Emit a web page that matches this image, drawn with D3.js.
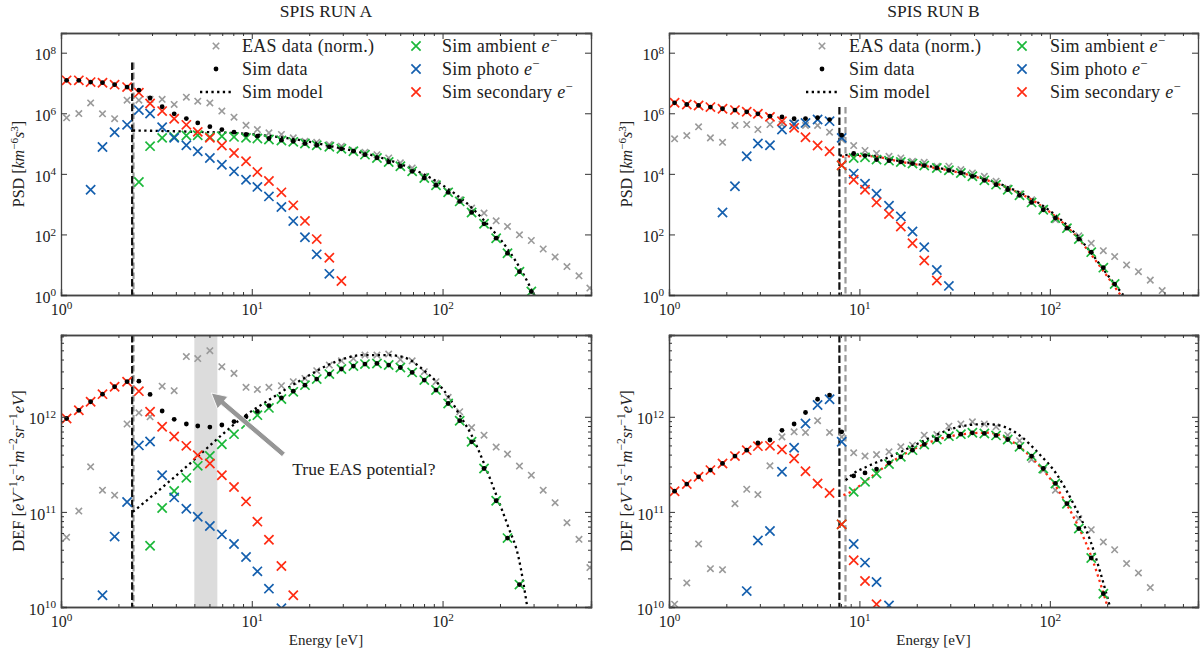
<!DOCTYPE html>
<html>
<head>
<meta charset="utf-8">
<script src="https://cdn.jsdelivr.net/npm/d3@7/dist/d3.min.js"></script>
<style>
  body { margin: 0; background: #fff; }
  text { font-family: "Liberation Serif", "DejaVu Serif", serif; fill: #222; }
</style>
</head>
<body>
<script>
// ---------------- data ----------------
// energy bins shared by every series [eV]
const energy = [1.07, 1.24, 1.43, 1.65, 1.91, 2.22, 2.56, 2.93, 3.39, 3.92,
  4.54, 5.21, 6.03, 6.97, 8.07, 9.33, 10.7, 12.3, 14.3, 16.5,
  19.0, 21.9, 25.5, 29.5, 34.1, 39.2, 45.3, 52.2, 60.1, 69.3,
  80.2, 92.4, 107, 123, 142, 165, 191, 219, 253, 292,
  337, 389, 449, 519, 592];

const pad = (n, arr) => Array(n).fill(null).concat(arr);

// RUN A, PSD
const psdEasA = [7.1e5, 9.8e5, 2.2e6, 9.6e5, 6.6e5, 2.7e6, 2.7e6, 2.9e6, 2.9e6, 1.95e6,
  3.4e6, 2.5e6, 2.2e6, 1.18e6, 7.4e5, 4.0e5, 2.9e5, 2.25e5, 2.0e5, 1.54e5,
  1.19e5, 1.1e5, 9.3e4, 8.2e4, 6.0e4, 5.2e4, 4.3e4, 3.35e4, 2.3e4, 1.56e4,
  8.3e3, 5.0e3, 2.6e3, 1.4e3, 740, 506, 282, 183, 97, 63,
  33, 18, 8.7, 4.3, 1.7];
const psdSimA = [1.22e7, 1.22e7, 1.07e7, 1.02e7, 8.8e6, 7.3e6, 5.8e6, 3.2e6, 1.64e6, 9.6e5,
  6.7e5, 4.8e5, 3.6e5, 2.9e5, 2.37e5, 1.99e5, 1.75e5, 1.47e5, 1.29e5, 1.19e5,
  1.0e5, 8.8e4, 7.8e4, 6.7e4, 5.6e4, 4.3e4, 3.35e4, 2.47e4, 1.78e4, 1.21e4,
  7.3e3, 4.2e3, 2.45e3, 1.23e3, 532, 224, 75, 24, 5.9, 1.3];
const psdAmbA = pad(6, [5.4e3, 8.2e4, 1.54e5, 1.66e5, 1.84e5, 1.89e5, 1.66e5, 1.75e5, 1.66e5, 1.54e5,
  1.47e5, 1.36e5, 1.26e5, 1.14e5, 1.0e5, 8.8e4, 7.8e4, 6.7e4, 5.6e4, 4.3e4,
  3.35e4, 2.47e4, 1.78e4, 1.21e4, 7.3e3, 4.2e3, 2.45e3, 1.23e3, 532, 224,
  75, 24, 5.9, 1.3]);
const psdPhotoA = pad(2, [3.0e3, 7.7e4, 2.37e5, 4.15e5, 1.27e6, 9.8e5, 3.47e5, 1.54e5, 8.8e4, 5.6e4,
  3.35e4, 2.0e4, 1.21e4, 6.4e3, 3.7e3, 1.8e3, 800, 275, 81, 22, 5]);
const psdSecA = [1.22e7, 1.22e7, 1.07e7, 1.02e7, 8.8e6, 7.3e6, 4.8e6, 2.1e6, 1.18e6, 6.6e5,
  4.15e5, 2.43e5, 1.54e5, 8.6e4, 4.9e4, 2.6e4, 1.15e4, 5.8e3, 2.45e3, 910,
  280, 70, 17, 2.9];
const modelPsdEA = [2.38, 3.42, 5.19, 7.87, 11.9, 18.1, 27.5, 41.7, 63.2, 95.9, 146, 179, 221, 261, 302];
const modelPsdA = [2.7e5, 2.6e5, 2.43e5, 2.25e5, 1.84e5, 1.29e5, 7.6e4, 4.3e4, 1.86e4, 5.0e3, 650, 162, 31, 5.9, 1.0];

// RUN A, DEF
const defEasA = [5.4e10, 1.02e11, 2.98e11, 1.69e11, 1.5e11, 8.4e11, 1.1e12, 1.0e12, 2.1e12, 1.88e12,
  4.3e12, 4.1e12, 4.95e12, 3.36e12, 2.86e12, 2.04e12, 1.94e12, 2.04e12, 2.12e12, 2.34e12,
  2.53e12, 3.05e12, 3.5e12, 3.88e12, 4.1e12, 4.46e12, 4.46e12, 4.57e12, 4.0e12, 3.88e12,
  2.98e12, 2.34e12, 1.6e12, 1.13e12, 7.7e11, 6.4e11, 4.8e11, 4.05e11, 3.03e11, 2.43e11,
  1.69e11, 1.25e11, 7.7e10, 5.15e10, 2.6e10];
const defSimA = [9.6e11, 1.17e12, 1.44e12, 1.73e12, 2.07e12, 2.34e12, 2.37e12, 1.72e12, 1.15e12, 9.4e11,
  8.4e11, 8.0e11, 7.8e11, 8.2e11, 8.9e11, 1.0e12, 1.14e12, 1.31e12, 1.58e12, 1.86e12,
  2.15e12, 2.49e12, 2.81e12, 3.18e12, 3.41e12, 3.58e12, 3.64e12, 3.5e12, 3.3e12, 2.93e12,
  2.43e12, 1.91e12, 1.38e12, 9.1e11, 5.46e11, 2.86e11, 1.31e11, 5.3e10, 1.72e10];
const defAmbA = pad(7, [4.4e10, 1.1e11, 1.66e11, 2.28e11, 3.05e11, 3.88e11, 5.15e11, 6.57e11, 8.4e11, 1.04e12,
  1.24e12, 1.54e12, 1.83e12, 2.15e12, 2.49e12, 2.81e12, 3.18e12, 3.41e12, 3.58e12, 3.64e12,
  3.5e12, 3.3e12, 2.93e12, 2.43e12, 1.91e12, 1.38e12, 9.1e11, 5.46e11, 2.86e11, 1.31e11,
  5.3e10, 1.72e10]);
const defPhotoA = pad(3, [1.33e10, 5.5e10, 1.27e11, 5.0e11, 5.5e11, 2.43e11, 1.42e11, 1.08e11, 8.9e10, 7.1e10,
  5.8e10, 4.6e10, 3.36e10, 2.37e10, 1.56e10, 9.7e9]);
const defSecA = [9.6e11, 1.17e12, 1.44e12, 1.73e12, 2.07e12, 2.34e12, 1.86e12, 1.13e12, 7.85e11, 6.2e11,
  4.95e11, 3.95e11, 3.23e11, 2.43e11, 1.83e11, 1.29e11, 7.9e10, 5.1e10, 2.7e10, 1.33e10];
const modelDefEA = [2.38, 3.42, 5.19, 6.93, 9.3, 11.9, 18.1, 27.5, 38.4, 51.5, 63.2, 81.3, 92.8, 109, 123, 142, 165, 190, 221, 250, 278];
const modelDefA = [1.0e11, 1.83e11, 3.79e11, 6.4e11, 1.04e12, 1.44e12, 2.43e12, 3.79e12, 4.46e12, 4.46e12,
  4.2e12, 2.98e12, 2.34e12, 1.56e12, 1.04e12, 6.4e11, 3.23e11, 1.56e11, 6.95e10, 3.36e10, 1.0e10];

// RUN B, PSD
const psdEasB = [1.43e5, 1.84e5, 3.56e5, 1.54e5, 1.1e5, 3.95e5, 4.26e5, 2.91e5, 4.26e5, 4.3e5,
  4.6e5, 3.95e5, 3.95e5, 2.37e5, 1.36e5, 8.6e4, 5.9e4, 4.7e4, 3.8e4, 3.35e4,
  2.6e4, 2.41e4, 1.78e4, 1.78e4, 1.38e4, 1.07e4, 8.3e3, 5.7e3, 3.4e3, 2.2e3,
  1.4e3, 687, 304, 170, 90, 51, 29, 18.6, 9.8, 5.9,
  3.1, 1.4];
const psdSimB = [2.22e6, 1.95e6, 1.81e6, 1.6e6, 1.41e6, 1.27e6, 1.12e6, 9.6e5, 8.0e5, 7.6e5,
  6.6e5, 6.7e5, 7.1e5, 6.2e5, 1.89e5, 4.7e4, 4.0e4, 2.95e4, 2.73e4, 2.47e4,
  2.18e4, 1.87e4, 1.56e4, 1.31e4, 1.07e4, 8.3e3, 6.1e3, 4.4e3, 3.0e3, 1.95e3,
  1.14e3, 653, 346, 161, 70, 26, 8.0, 2.3];
const psdAmbB = pad(14, [1.9e4, 3.35e4, 3.5e4, 2.95e4, 2.73e4, 2.47e4, 2.18e4, 1.87e4, 1.56e4, 1.31e4,
  1.07e4, 8.3e3, 6.1e3, 4.4e3, 3.0e3, 1.95e3, 1.14e3, 653, 346, 161,
  70, 26, 8.0, 2.3]);
const psdPhotoB = pad(4, [532, 3.9e3, 3.8e4, 1.0e5, 8.8e4, 2.9e5, 4.3e5, 4.8e5, 6.2e5, 5.5e5,
  1.54e5, 1.02e4, 4.7e3, 2.2e3, 885, 393, 125, 38, 6.7, 2.0]);
const psdSecB = [2.22e6, 1.95e6, 1.81e6, 1.6e6, 1.41e6, 1.27e6, 1.12e6, 9.6e5, 7.6e5, 5.5e5,
  3.3e5, 1.62e5, 8.6e4, 5.6e4, 1.92e4, 6.4e3, 3.0e3, 1.14e3, 469, 183,
  51, 13.7, 3.0];
const modelPsdEB = [7.87, 9.21, 10.9, 16.5, 25.1, 38.0, 57.7, 87.5, 108, 133, 163, 201, 243];
const modelPsdB = [4.0e4, 4.3e4, 4.1e4, 2.6e4, 1.64e4, 9.4e3, 4.06e3, 1.08e3, 413, 125, 27, 4.6, 1.0];
const modelSecPsdEB = [8.1, 10.9, 16.5, 25.1, 38.0, 57.7, 87.5, 133, 201, 235];
const modelSecPsdB = [3.7e4, 3.9e4, 2.5e4, 1.56e4, 9.0e3, 3.8e3, 1.0e3, 110, 4.0, 1.0];

// RUN B, DEF
const defEasB = [1.07e10, 1.79e10, 4.6e10, 2.53e10, 2.47e10, 1.22e11, 1.73e11, 1.52e11, 3.05e11, 6.15e11,
  6.95e11, 6.84e11, 9.1e11, 6.84e11, 6.15e11, 4.18e11, 3.86e11, 4.0e11, 4.28e11, 4.83e11,
  5.03e11, 6.4e11, 6.5e11, 7.97e11, 8.4e11, 8.85e11, 8.4e11, 7.85e11, 6.4e11, 5.6e11,
  3.56e11, 2.75e11, 1.69e11, 1.22e11, 8.5e10, 6.5e10, 4.83e10, 4.0e10, 2.86e10, 2.28e10,
  1.6e10];
const defSimB = [1.65e11, 1.96e11, 2.34e11, 2.75e11, 3.23e11, 3.86e11, 4.46e11, 5.3e11, 5.7e11, 7.2e11,
  8.4e11, 1.11e12, 1.53e12, 1.69e12, 6.95e11, 2.39e11, 2.57e11, 2.82e11, 3.28e11, 3.79e11,
  4.46e11, 5.12e11, 5.77e11, 6.26e11, 6.57e11, 6.79e11, 6.68e11, 6.37e11, 5.77e11, 4.83e11,
  3.86e11, 2.86e11, 1.99e11, 1.22e11, 6.68e10, 3.28e10, 1.38e10];
const defAmbB = pad(14, [7.4e10, 1.63e11, 2.07e11, 2.53e11, 3.18e11, 3.79e11, 4.46e11, 5.12e11, 5.77e11, 6.26e11,
  6.57e11, 6.79e11, 6.68e11, 6.37e11, 5.77e11, 4.83e11, 3.86e11, 2.86e11, 1.99e11, 1.22e11,
  6.68e10, 3.28e10, 1.38e10]);
const defPhotoB = pad(6, [1.47e10, 5.0e10, 6.3e10, 2.64e11, 4.72e11, 8.5e11, 1.33e12, 1.53e12, 5.46e11, 4.6e10,
  2.93e10, 1.83e10, 1.04e10]);
const defSecB = [1.65e11, 1.96e11, 2.34e11, 2.75e11, 3.23e11, 3.86e11, 4.46e11, 4.91e11, 4.95e11, 4.53e11,
  3.64e11, 2.68e11, 1.99e11, 1.58e11, 7.4e10, 3.1e10, 1.88e10, 1.07e10];
const modelDefEB = [8.48, 9.21, 10.9, 13.4, 16.5, 20.3, 25.1, 30.8, 38.0, 46.8, 57.7, 71.0, 87.5, 108, 133, 163, 185, 206];
const modelDefB = [2.15e11, 2.49e11, 2.98e11, 3.56e11, 4.28e11, 5.24e11, 6.4e11, 7.5e11, 8.2e11, 8.4e11,
  7.85e11, 6.15e11, 4.11e11, 2.53e11, 1.22e11, 5.0e10, 2.24e10, 1.04e10];
const modelSecDefEB = [8.24, 9.21, 10.9, 16.5, 25.1, 38.0, 46.8, 57.7, 71.0, 87.5, 108, 133, 163, 200];
const modelSecDefB = [1.5e11, 1.66e11, 2.15e11, 3.86e11, 5.68e11, 6.68e11, 6.8e11, 6.15e11, 4.64e11, 3.1e11,
  1.83e11, 8.9e10, 3.64e10, 1.04e10];

// spacecraft potential markers [eV]
const potentialA = { sim: 2.36, eas: 2.40 };
const potentialB = { sim: 7.85, eas: 8.45 };
const bandA = [5.0, 6.6];               // shaded "true EAS potential" span
const arrowFrom = [14.7, 4.0e11];       // [eV, DEF]
const arrowTo = [6.13, 1.78e12];

// axes
const xDomain = [1, 600];
const psdDomain = [1, Math.pow(10, 8.65)];
const defDomain = [1e10, Math.pow(10, 12.86)];
const xTicks = [1, 10, 100];
const psdTicks = [1, 1e2, 1e4, 1e6, 1e8];
const defTicks = [1e10, 1e11, 1e12];

const titles = ["SPIS RUN A", "SPIS RUN B"];
const legendLabels = ["EAS data (norm.)", "Sim data", "Sim model", "Sim ambient ", "Sim photo ", "Sim secondary "];

// ---------------- drawing ----------------
const width = 1200, height = 653;
const col = { eas: "#9a9a9a", amb: "#1bb83a", photo: "#145fae", sec: "#ff2b12", sim: "#000" };

let svg = d3.select("body").append("svg")
  .attr("width", width).attr("height", height);

function minorTicks(lo, hi) {
  let out = [];
  for (let k = Math.floor(Math.log10(lo)); k <= Math.ceil(Math.log10(hi)); k++)
    for (let m = 2; m <= 9; m++) {
      let v = m * Math.pow(10, k);
      if (v > lo && v < hi) out.push(v);
    }
  return out;
}

// text with italic parts and superscripts
function rich(sel, parts, fs) {
  let up = false;
  parts.forEach(p => {
    let ts = sel.append("tspan").text(p.t);
    if (p.i) ts.attr("font-style", "italic");
    if (p.s) {
      ts.attr("font-size", fs * 0.7);
      if (!up) ts.attr("dy", -fs * 0.4);
      up = true;
    } else if (up) {
      ts.attr("dy", fs * 0.4);
      up = false;
    }
  });
}

function powLabel(sel, fs) {
  sel.text(null).each(function (d) {
    rich(d3.select(this), [{ t: "10" }, { t: String(Math.round(Math.log10(d))), s: true }], fs);
  });
}

function crossPath(a) { return `M${-a},${-a}L${a},${a}M${-a},${a}L${a},${-a}`; }

function drawCrosses(g, x, y, vals, color, a, sw) {
  let pts = vals.map((v, i) => ({ e: energy[i], v: v })).filter(d => d.v != null);
  g.selectAll(null).data(pts).enter().append("path")
    .attr("transform", d => `translate(${x(d.e)},${y(d.v)})`)
    .attr("d", crossPath(a))
    .attr("fill", "none").attr("stroke", color).attr("stroke-width", sw);
}

function drawDots(g, x, y, vals) {
  let pts = vals.map((v, i) => ({ e: energy[i], v: v })).filter(d => d.v != null);
  g.selectAll(null).data(pts).enter().append("circle")
    .attr("cx", d => x(d.e)).attr("cy", d => y(d.v))
    .attr("r", 2.4).attr("fill", col.sim);
}

function drawModel(g, x, y, es, vs, color) {
  let line = d3.line().x(d => x(d[0])).y(d => y(d[1])).curve(d3.curveMonotoneX);
  g.append("path").datum(es.map((e, i) => [e, vs[i]]))
    .attr("d", line).attr("fill", "none")
    .attr("stroke", color).attr("stroke-width", 2.3)
    .attr("stroke-dasharray", "2.3 3.4");
}

function drawPanel(p, idx) {
  let x = d3.scaleLog().domain(xDomain).range([p.left, p.right]);
  let y = d3.scaleLog().domain(p.yDomain).range([p.bottom, p.top]);

  svg.append("clipPath").attr("id", "clip" + idx)
    .append("rect").attr("x", p.left).attr("y", p.top)
    .attr("width", p.right - p.left).attr("height", p.bottom - p.top);

  let g = svg.append("g").attr("clip-path", `url(#clip${idx})`);

  if (p.band) {
    g.append("rect")
      .attr("x", x(p.band[0])).attr("width", x(p.band[1]) - x(p.band[0]))
      .attr("y", p.top).attr("height", p.bottom - p.top)
      .attr("fill", "#dcdcdc");
  }

  // potential lines
  [["eas", col.eas], ["sim", "#111"]].forEach(([k, c]) => {
    let top = p.vTop == null ? p.top : y(p.vTop);
    g.append("line")
      .attr("x1", x(p.pot[k])).attr("x2", x(p.pot[k]))
      .attr("y1", top).attr("y2", p.bottom)
      .attr("stroke", c).attr("stroke-width", 2.2)
      .attr("stroke-dasharray", k == "sim" ? "7.5 2.8" : "6.5 3.5");
  });

  drawCrosses(g, x, y, p.eas, col.eas, 3.2, 1.6);
  p.models.forEach(m => drawModel(g, x, y, m[0], m[1], m[2]));
  drawCrosses(g, x, y, p.amb, col.amb, 4.6, 1.7);
  drawCrosses(g, x, y, p.photo, col.photo, 4.6, 1.7);
  drawCrosses(g, x, y, p.sec, col.sec, 4.6, 1.7);
  drawDots(g, x, y, p.sim);

  // axes, ticks pointing inward on all four sides
  let minX = minorTicks(xDomain[0], xDomain[1]);
  let axB = svg.append("g").attr("transform", `translate(0,${p.bottom})`)
    .call(d3.axisBottom(x).tickValues(xTicks).tickSize(-6).tickPadding(9));
  axB.selectAll("text").attr("font-size", 16).call(powLabel, 16);
  svg.append("g").attr("transform", `translate(0,${p.bottom})`)
    .call(d3.axisBottom(x).tickValues(minX).tickSize(-3).tickFormat(""));
  svg.append("g").attr("transform", `translate(0,${p.top})`)
    .call(d3.axisTop(x).tickValues(xTicks).tickSize(-6).tickFormat(""));
  svg.append("g").attr("transform", `translate(0,${p.top})`)
    .call(d3.axisTop(x).tickValues(minX).tickSize(-3).tickFormat(""));

  let axL = svg.append("g").attr("transform", `translate(${p.left},0)`)
    .call(d3.axisLeft(y).tickValues(p.yTicks).tickSize(-6).tickPadding(5));
  axL.selectAll("text").attr("font-size", 16).attr("dy", "0.45em").call(powLabel, 16);
  svg.append("g").attr("transform", `translate(${p.right},0)`)
    .call(d3.axisRight(y).tickValues(p.yTicks).tickSize(-6).tickFormat(""));
  if (p.yMinor) {
    let minY = minorTicks(p.yDomain[0], p.yDomain[1]);
    svg.append("g").attr("transform", `translate(${p.left},0)`)
      .call(d3.axisLeft(y).tickValues(minY).tickSize(-3).tickFormat(""));
    svg.append("g").attr("transform", `translate(${p.right},0)`)
      .call(d3.axisRight(y).tickValues(minY).tickSize(-3).tickFormat(""));
  }
  svg.selectAll(".domain").attr("stroke", "#444").attr("stroke-width", 1.3);
  svg.selectAll(".tick line").attr("stroke", "#333").attr("stroke-width", 1);

  // y label (baseline kept clear of the page edge)
  let cy = (p.top + p.bottom) / 2;
  let yl = svg.append("text").attr("font-size", p.yFont)
    .attr("text-anchor", "middle")
    .attr("transform", `translate(${p.left - 37},${cy}) rotate(-90)`);
  rich(yl, p.yLabel, p.yFont);

  if (p.xLabel) {
    svg.append("text").attr("x", (p.left + p.right) / 2).attr("y", 645)
      .attr("text-anchor", "middle").attr("font-size", 15).text("Energy [eV]");
  }
  if (p.title) {
    svg.append("text").attr("x", (p.left + p.right) / 2).attr("y", 17)
      .attr("text-anchor", "middle").attr("font-size", 17.5).text(p.title);
  }
  if (p.legend) drawLegend(p.legend);
  if (p.arrow) drawArrow(x, y);
}

function drawLegend(L) {
  let rows = [46, 69, 92];
  let fs = 18;
  let lg = svg.append("g");
  lg.append("path").attr("transform", `translate(${L.m1},${rows[0]})`)
    .attr("d", crossPath(3.2)).attr("stroke", col.eas).attr("stroke-width", 1.6);
  lg.append("circle").attr("cx", L.m1).attr("cy", rows[1]).attr("r", 2.4).attr("fill", "#000");
  lg.append("line").attr("x1", L.m1 - 16).attr("x2", L.m1 + 16)
    .attr("y1", rows[2]).attr("y2", rows[2])
    .attr("stroke", "#000").attr("stroke-width", 2.3).attr("stroke-dasharray", "2.3 3.4");
  [col.amb, col.photo, col.sec].forEach((c, i) => {
    lg.append("path").attr("transform", `translate(${L.m2},${rows[i]})`)
      .attr("d", crossPath(4.6)).attr("stroke", c).attr("stroke-width", 1.7);
  });
  legendLabels.forEach((t, i) => {
    let tx = lg.append("text").attr("font-size", fs).attr("letter-spacing", 0.3)
      .attr("x", i < 3 ? L.t1 : L.t2).attr("y", rows[i % 3]).attr("dy", "0.35em");
    if (i < 3) tx.text(t);
    else rich(tx, [{ t: t }, { t: "e", i: true }, { t: "\u2212", s: true }], fs);
  });
}

function drawArrow(x, y) {
  let x0 = x(arrowFrom[0]), y0 = y(arrowFrom[1]);
  let x1 = x(arrowTo[0]), y1 = y(arrowTo[1]);
  let ang = Math.atan2(y1 - y0, x1 - x0);
  let len = Math.hypot(x1 - x0, y1 - y0);
  let hl = 15, hw = 8, sw = 2.6;
  let shape = [[0, -sw], [len - hl, -sw], [len - hl, -hw], [len, 0], [len - hl, hw], [len - hl, sw], [0, sw]];
  svg.append("polygon")
    .attr("points", shape.map(d => d.join(",")).join(" "))
    .attr("transform", `translate(${x0},${y0}) rotate(${ang * 180 / Math.PI})`)
    .attr("fill", "#969696").attr("stroke", "#fff").attr("stroke-width", 0.8);
  svg.append("text").attr("x", x(16.3)).attr("y", y(2.8e11)).attr("dy", "0.35em")
    .attr("font-size", 17.5).text("True EAS potential?");
}

const psdLabel = [{ t: "PSD [" }, { t: "km", i: true }, { t: "\u22126", s: true }, { t: "s", i: true }, { t: "3", s: true }, { t: "]" }];
const defLabel = [{ t: "DEF [" }, { t: "eV", i: true }, { t: "\u22121", s: true }, { t: "s", i: true }, { t: "\u22121", s: true },
  { t: "m", i: true }, { t: "\u22122", s: true }, { t: "sr", i: true }, { t: "\u22121", s: true }, { t: "eV", i: true }, { t: "]" }];

let panels = [
  { left: 61, right: 591, top: 33, bottom: 295, yDomain: psdDomain, yTicks: psdTicks,
    eas: psdEasA, sim: psdSimA, amb: psdAmbA, photo: psdPhotoA, sec: psdSecA,
    models: [[modelPsdEA, modelPsdA, "#000"]], pot: potentialA, vTop: 4.7e7,
    yLabel: psdLabel, yFont: 16, title: titles[0], legend: { m1: 216, t1: 242, m2: 416, t2: 442 } },
  { left: 61, right: 591, top: 335, bottom: 607, yDomain: defDomain, yTicks: defTicks, yMinor: true,
    eas: defEasA, sim: defSimA, amb: defAmbA, photo: defPhotoA, sec: defSecA,
    models: [[modelDefEA, modelDefA, "#000"]], pot: potentialA, vTop: null, band: bandA, arrow: true,
    yLabel: defLabel, yFont: 16.5, xLabel: true },
  { left: 669, right: 1198, top: 33, bottom: 295, yDomain: psdDomain, yTicks: psdTicks,
    eas: psdEasB, sim: psdSimB, amb: psdAmbB, photo: psdPhotoB, sec: psdSecB,
    models: [[modelSecPsdEB, modelSecPsdB, col.sec], [modelPsdEB, modelPsdB, "#000"]], pot: potentialB, vTop: 1.6e6,
    yLabel: psdLabel, yFont: 16, title: titles[1], legend: { m1: 822, t1: 849, m2: 1022, t2: 1050 } },
  { left: 669, right: 1198, top: 335, bottom: 607, yDomain: defDomain, yTicks: defTicks, yMinor: true,
    eas: defEasB, sim: defSimB, amb: defAmbB, photo: defPhotoB, sec: defSecB,
    models: [[modelSecDefEB, modelSecDefB, col.sec], [modelDefEB, modelDefB, "#000"]], pot: potentialB, vTop: null,
    yLabel: defLabel, yFont: 16.5, xLabel: true }
];

panels.forEach((p, i) => drawPanel(p, i));
</script>
</body>
</html>
